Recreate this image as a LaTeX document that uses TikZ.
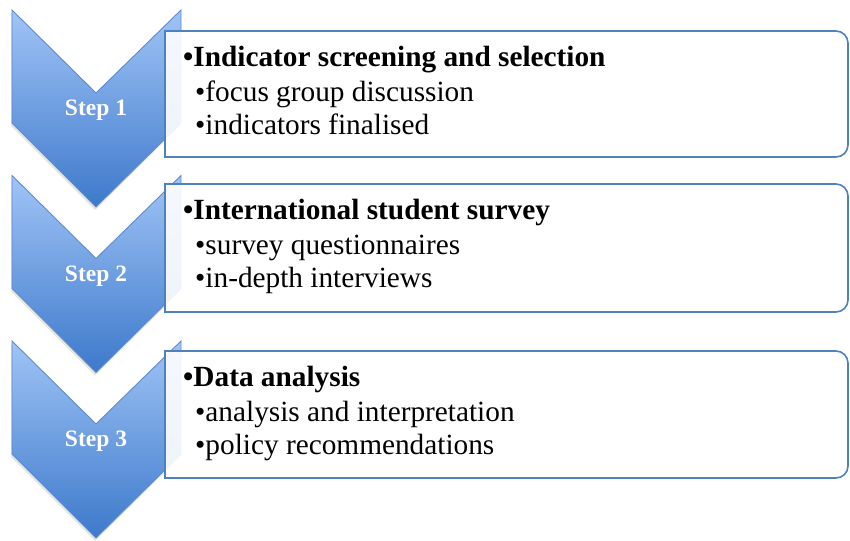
\documentclass[tikz,border=0pt]{standalone}
\usepackage{fontspec}
\setmainfont{Liberation Serif}
\usetikzlibrary{shadows}
\definecolor{chevtop}{HTML}{A0C4F6}
\definecolor{chevbot}{HTML}{3D79CB}
\definecolor{chevline}{HTML}{5F8BCB}
\definecolor{boxline}{HTML}{4F81BD}
\tikzset{
  chev/.style={draw=chevline, line width=0.9pt, top color=chevtop, bottom color=chevbot,
    line join=miter, drop shadow={opacity=0.22, shadow xshift=-1pt, shadow yshift=-3pt}},
  stepbox/.style={draw=boxline, line width=1.6pt, fill=white, fill opacity=0.9},
  steplabel/.style={text=white, inner sep=0pt, font=\fontsize{23.5}{27}\selectfont\bfseries},
  headtxt/.style={anchor=base west, inner sep=0pt, font=\fontsize{29.3}{33}\selectfont\bfseries},
  itemtxt/.style={anchor=base west, inner sep=0pt, font=\fontsize{29.3}{33}\selectfont},
}
\begin{document}
\begin{tikzpicture}[x=1pt,y=1pt]
\useasboundingbox (0,0) rectangle (850,540);
% chevrons
\path[chev] (12,530) -- (96,447) -- (181,530) -- (181,417) -- (96,333) -- (12,417) -- cycle;
\path[chev] (12,364.5) -- (96,281.5) -- (181,364.5) -- (181,251.5) -- (96,167.5) -- (12,251.5) -- cycle;
\path[chev] (12,199) -- (96,116) -- (181,199) -- (181,86) -- (96,2) -- (12,86) -- cycle;
\node[steplabel] (s1) at (96,430) {Step 1};
\node[steplabel] (s2) at (96,264) {Step 2};
\node[steplabel] (s3) at (96,99) {Step 3};
% boxes
\path[stepbox] (165,509) -- (836,509) arc[start angle=90,end angle=0,radius=12] -- (848,395)
  arc[start angle=0,end angle=-90,radius=12] -- (165,383) -- cycle;
\path[stepbox] (165,356) -- (836,356) arc[start angle=90,end angle=0,radius=12] -- (848,240)
  arc[start angle=0,end angle=-90,radius=12] -- (165,228) -- cycle;
\path[stepbox] (165,189) -- (836,189) arc[start angle=90,end angle=0,radius=12] -- (848,74)
  arc[start angle=0,end angle=-90,radius=12] -- (165,62) -- cycle;
% texts
\node[headtxt] (h1) at (183,473) {\textbullet Indicator screening and selection};
\node[itemtxt] (a1) at (195,438) {\textbullet focus group discussion};
\node[itemtxt] (b1) at (195,405) {\textbullet indicators finalised};
\node[headtxt] (h2) at (183,320) {\textbullet International student survey};
\node[itemtxt] (a2) at (195,285) {\textbullet survey questionnaires};
\node[itemtxt] (b2) at (195,252) {\textbullet in-depth interviews};
\node[headtxt] (h3) at (183,153) {\textbullet Data analysis};
\node[itemtxt] (a3) at (195,118) {\textbullet analysis and interpretation};
\node[itemtxt] (b3) at (195,85) {\textbullet policy recommendations};
\end{tikzpicture}
\end{document}
